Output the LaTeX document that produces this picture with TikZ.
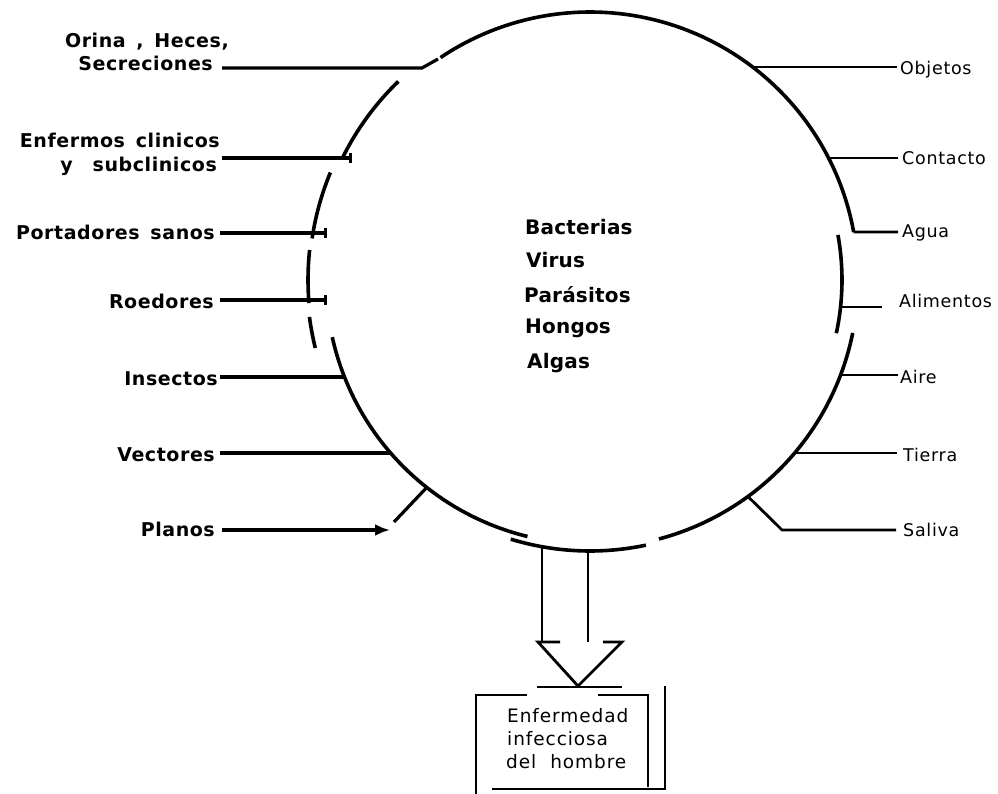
\documentclass[tikz,border=0pt]{standalone}
\usepackage{fontspec}
\usetikzlibrary{arrows.meta}
\newfontfamily\lfont[LetterSpace=3,WordSpace=1.5]{DejaVu Sans}
\newfontfamily\cfont[LetterSpace=1]{DejaVu Sans}
\newfontfamily\rfont[LetterSpace=4]{DejaVu Sans}
\newfontfamily\bxfont[LetterSpace=5,WordSpace=1.4]{DejaVu Sans}
\begin{document}
\begin{tikzpicture}[x=1pt,y=1pt,
  circ/.style={line width=3.6pt},
  lconn/.style={line width=3.2pt},
  rconn/.style={line width=2.8pt},
  boxline/.style={line width=2.8pt},
  llab/.style={font={\lfont\bfseries\fontsize{19}{21}\selectfont}, inner sep=0pt, anchor=base east},
  clab/.style={font={\cfont\bfseries\fontsize{20}{22}\selectfont}, inner sep=0pt, anchor=base west},
  rlab/.style={font={\rfont\fontsize{17.5}{19}\selectfont}, inner sep=0pt, anchor=base west},
  blab/.style={font={\bxfont\fontsize{18.5}{20}\selectfont}, inner sep=0pt, anchor=base west},
  tick/.style={-{Bar[width=10pt]}},
  head/.style={-{Latex[length=15pt,width=12pt]}}
]
\useasboundingbox (0,0) rectangle (998,-794);
\coordinate (O) at (590,-280);

% ---- broken circle ----
\draw[circ] ([shift={(123.9:268)}]O) arc[start angle=123.9,end angle=10.3,radius=268];
\draw[circ] ([shift={(10.3:252)}]O) arc[start angle=10.3,end angle=-12.2,radius=252];
\draw[circ] ([shift={(-11.4:268)}]O) arc[start angle=-11.4,end angle=-75.1,radius=268];
\draw[circ] ([shift={(-107:271)}]O) arc[start angle=-107,end angle=-78.1,radius=271];
\draw[circ] ([shift={(-167.5:264)}]O) arc[start angle=-167.5,end angle=-103.7,radius=264];
\draw[circ] ([shift={(-172.5:283)}]O) arc[start angle=-172.5,end angle=-166.1,radius=283];
\draw[circ] ([shift={(173.9:282)}]O) arc[start angle=173.9,end angle=184.7,radius=282];
\draw[circ] ([shift={(157.5:281)}]O) arc[start angle=157.5,end angle=171.5,radius=281];
\draw[circ] ([shift={(134:276)}]O) arc[start angle=134,end angle=153.8,radius=276];

% ---- centre text ----
\node[clab] (cBac) at (525,-235) {Bacterias};
\node[clab] (cVir) at (526,-268) {Virus};
\node[clab] (cPar) at (524,-302) {Parásitos};
\node[clab] (cHon) at (525,-333) {Hongos};
\node[clab] (cAlg) at (527,-368) {Algas};

% ---- left labels ----
\node[llab] (lOri1) at (229,-48) {Orina , Heces,};
\node[llab] (lOri2) at (213,-71) {Secreciones};
\node[llab] (lEnf1) at (220,-148) {Enfermos clinicos};
\node[llab] (lEnf2) at (217,-172) {y\hskip 20pt subclinicos};
\node[llab] (lPor) at (215,-240) {Portadores sanos};
\node[llab] (lRoe) at (214,-308) {Roedores};
\node[llab] (lIns) at (218,-385) {Insectos};
\node[llab] (lVec) at (215,-461) {Vectores};
\node[llab] (lPla) at (215,-536) {Planos};

% left connector points
\coordinate (sOri) at (222,-68);
\coordinate (kOri) at (422,-68);
\coordinate (jOri) at (438,-59);
\coordinate (sEnf) at (222,-158);
\coordinate (eEnf) at (352,-158);
\coordinate (sPor) at (220,-233);
\coordinate (ePor) at (327,-233);
\coordinate (sRoe) at (220,-300);
\coordinate (eRoe) at (327,-300);
\coordinate (sIns) at (220,-377);
\coordinate (jIns) at (344.5,-377);
\coordinate (sVec) at (220,-453);
\coordinate (jVec) at (390.6,-453);
\coordinate (sPla) at (222,-530);
\coordinate (ePla) at (390,-530);
\coordinate (dPla) at (394,-522);
\coordinate (jPla) at (426.7,-487.5);

\draw[lconn] (sOri) -- (kOri) -- (jOri);
\draw[lconn,tick] (sEnf) -- (eEnf);
\draw[lconn,tick] (sPor) -- (ePor);
\draw[lconn,tick] (sRoe) -- (eRoe);
\draw[lconn] (sIns) -- (jIns);
\draw[lconn] (sVec) -- (jVec);
\draw[lconn,head] (sPla) -- (ePla);
\draw[lconn] (dPla) -- (jPla);

% ---- right labels ----
\node[rlab] (rObj) at (900,-75) {Objetos};
\node[rlab] (rCon) at (902,-165) {Contacto};
\node[rlab] (rAgu) at (902,-238) {Agua};
\node[rlab] (rAli) at (899,-307) {Alimentos};
\node[rlab] (rAir) at (900,-383) {Aire};
\node[rlab] (rTie) at (903,-461) {Tierra};
\node[rlab] (rSal) at (903,-536) {Saliva};

\coordinate (jObj) at (752.6,-67);   \coordinate (eObj) at (897,-67);
\coordinate (jCon) at (828.6,-158);  \coordinate (eCon) at (898,-158);
\coordinate (jAgu) at (853.7,-232.1);\coordinate (eAgu) at (898,-232);
\coordinate (jAli) at (840.5,-307);  \coordinate (eAli) at (882,-307);
\coordinate (jAir) at (840.6,-375);  \coordinate (eAir) at (898,-375);
\coordinate (jTie) at (794.7,-453);  \coordinate (eTie) at (897,-453);
\coordinate (jSal) at (747.9,-496.5);\coordinate (kSal) at (777,-525);
\coordinate (mSal) at (782,-530);    \coordinate (eSal) at (896,-530);

\draw[rconn] (jObj) -- (eObj);
\draw[rconn] (jCon) -- (eCon);
\draw[rconn] (jAgu) -- (eAgu);
\draw[rconn] (jAli) -- (eAli);
\draw[rconn] (jAir) -- (eAir);
\draw[rconn] (jTie) -- (eTie);
\draw[rconn] (jSal) -- (kSal) -- (mSal) -- (eSal);

% ---- big arrow ----
\coordinate (sh1) at (542,-546.7);
\coordinate (sh1b) at (542,-642);
\coordinate (sh2) at (588,-551);
\coordinate (sh2b) at (588,-642);
\coordinate (w1) at (560,-642);
\coordinate (w2) at (538,-642);
\coordinate (tip) at (578,-686);
\coordinate (w3) at (622,-642);
\coordinate (w4) at (603,-642);
\coordinate (b1) at (537,-687);
\coordinate (b2) at (622,-687);
\draw[boxline] (sh1) -- (sh1b);
\draw[boxline] (sh2) -- (sh2b);
\draw[boxline] (w1) -- (w2) -- (tip) -- (w3) -- (w4);
\draw[boxline] (b1) -- (b2);

% ---- box ----
\coordinate (x1) at (527,-695);
\coordinate (x2) at (476,-695);
\coordinate (x3) at (476,-794);
\coordinate (x4) at (598,-695);
\coordinate (x5) at (648,-695);
\coordinate (x6) at (648,-787);
\coordinate (x7) at (665,-686);
\coordinate (x8) at (665,-789);
\coordinate (x9) at (492,-789);
\draw[boxline] (x1) -- (x2) -- (x3);
\draw[boxline] (x4) -- (x5) -- (x6);
\draw[boxline] (x7) -- (x8) -- (x9);

\node[blab] (bx1) at (507,-722) {Enfermedad};
\node[blab] (bx2) at (507,-745) {infecciosa};
\node[blab] (bx3) at (506,-768) {del\hskip 14pt hombre};
\end{tikzpicture}
\end{document}
